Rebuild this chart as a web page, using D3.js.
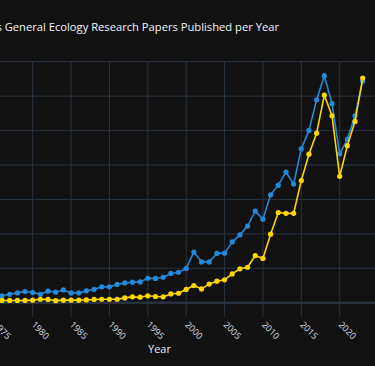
<!DOCTYPE html>
<html>
<head>
<meta charset="utf-8">
<script src="https://cdn.jsdelivr.net/npm/d3@7"></script>
<style>
  html, body { margin: 0; padding: 0; background: #111111; overflow: hidden; }
  svg { display: block; font-family: "Open Sans", "Noto Sans", sans-serif; }
</style>
</head>
<body>
<div id="chart"></div>
<script>
// years shown on the x axis
const years = d3.range(1975, 2024);

// general ecology papers per year (blue)
const generalPapers = [35, 40, 49, 57, 65, 59, 49, 67, 61, 74,
  57, 57, 69, 78, 92, 92, 106, 115, 119, 121,
  142, 141, 148, 170, 177, 199, 294, 237, 237, 286,
  288, 353, 394, 445, 532, 485, 627, 683, 759, 689,
  894, 1001, 1179, 1319, 1156, 865, 949, 1086, 1286];

// topic papers per year (yellow)
const topicPapers = [12, 13, 13, 13, 13, 15, 20, 19, 12, 15,
  15, 15, 16, 19, 20, 20, 20, 28, 34, 32,
  40, 36, 34, 51, 55, 77, 100, 80, 108, 125,
  133, 167, 197, 206, 274, 257, 398, 524, 519, 519,
  710, 863, 985, 1206, 1086, 734, 912, 1053, 1305];

const xTicks = [1975, 1980, 1985, 1990, 1995, 2000, 2005, 2010, 2015, 2020];
const yTicks = [0, 200, 400, 600, 800, 1000, 1200, 1400];

const title = 'Climate Change Papers vs General Ecology Research Papers Published per Year';

const width = 375, height = 366;
// plot area (the left part of the chart lies outside the window)
const plotLeft = -80, plotRight = 390, plotTop = 61, plotBottom = 317;

const svg = d3.select('#chart').append('svg')
  .attr('width', width)
  .attr('height', height);

svg.append('rect')
  .attr('width', width)
  .attr('height', height)
  .attr('fill', '#111111');

const x = d3.scaleLinear()
  .domain([1975, 2023])
  .range([-5.7, 362.7]);

const y = d3.scaleLinear()
  .domain([-83, 1404])
  .range([plotBottom, plotTop]);

// grid lines
svg.append('g').selectAll('line')
  .data(yTicks)
  .join('line')
  .attr('x1', plotLeft).attr('x2', plotRight)
  .attr('y1', d => y(d)).attr('y2', d => y(d))
  .attr('stroke', '#283442')
  .attr('stroke-width', d => d === 0 ? 2 : 1);

svg.append('g').selectAll('line')
  .data(xTicks)
  .join('line')
  .attr('x1', d => x(d)).attr('x2', d => x(d))
  .attr('y1', plotTop).attr('y2', plotBottom)
  .attr('stroke', '#283442')
  .attr('stroke-width', 1);

// redraw zero line on top of the vertical grid
svg.append('line')
  .attr('x1', plotLeft).attr('x2', plotRight)
  .attr('y1', y(0)).attr('y2', y(0))
  .attr('stroke', '#283442')
  .attr('stroke-width', 2);

// x tick labels, rotated 45 degrees
svg.append('g').selectAll('text')
  .data(xTicks)
  .join('text')
  .attr('transform', d => `translate(${x(d) + 0.5},${plotBottom + 6}) rotate(45)`)
  .attr('dy', '0.35em')
  .attr('text-anchor', 'start')
  .attr('font-size', 9)
  .attr('fill', '#d8dce2')
  .text(d => d);

// axis title
svg.append('text')
  .attr('x', 159.5)
  .attr('y', 353)
  .attr('text-anchor', 'middle')
  .attr('font-size', 11)
  .attr('fill', '#e6e9ee')
  .text('Year');

// chart title (left part is cut off by the window)
svg.append('text')
  .attr('x', 279)
  .attr('y', 31)
  .attr('text-anchor', 'end')
  .attr('font-size', 11.2)
  .attr('fill', '#f2f5fa')
  .text(title);

const series = [
  { name: 'General Ecology', values: generalPapers, color: '#2389d8' },
  { name: 'Topic', values: topicPapers, color: '#ffd700' }
];

const line = d3.line()
  .x((d, i) => x(years[i]))
  .y(d => y(d));

series.forEach(s => {
  svg.append('path')
    .datum(s.values)
    .attr('fill', 'none')
    .attr('stroke', s.color)
    .attr('stroke-width', 1.6)
    .attr('d', line);

  svg.append('g').selectAll('circle')
    .data(s.values)
    .join('circle')
    .attr('cx', (d, i) => x(years[i]))
    .attr('cy', d => y(d))
    .attr('r', 2.6)
    .attr('fill', s.color);
});
</script>
</body>
</html>
